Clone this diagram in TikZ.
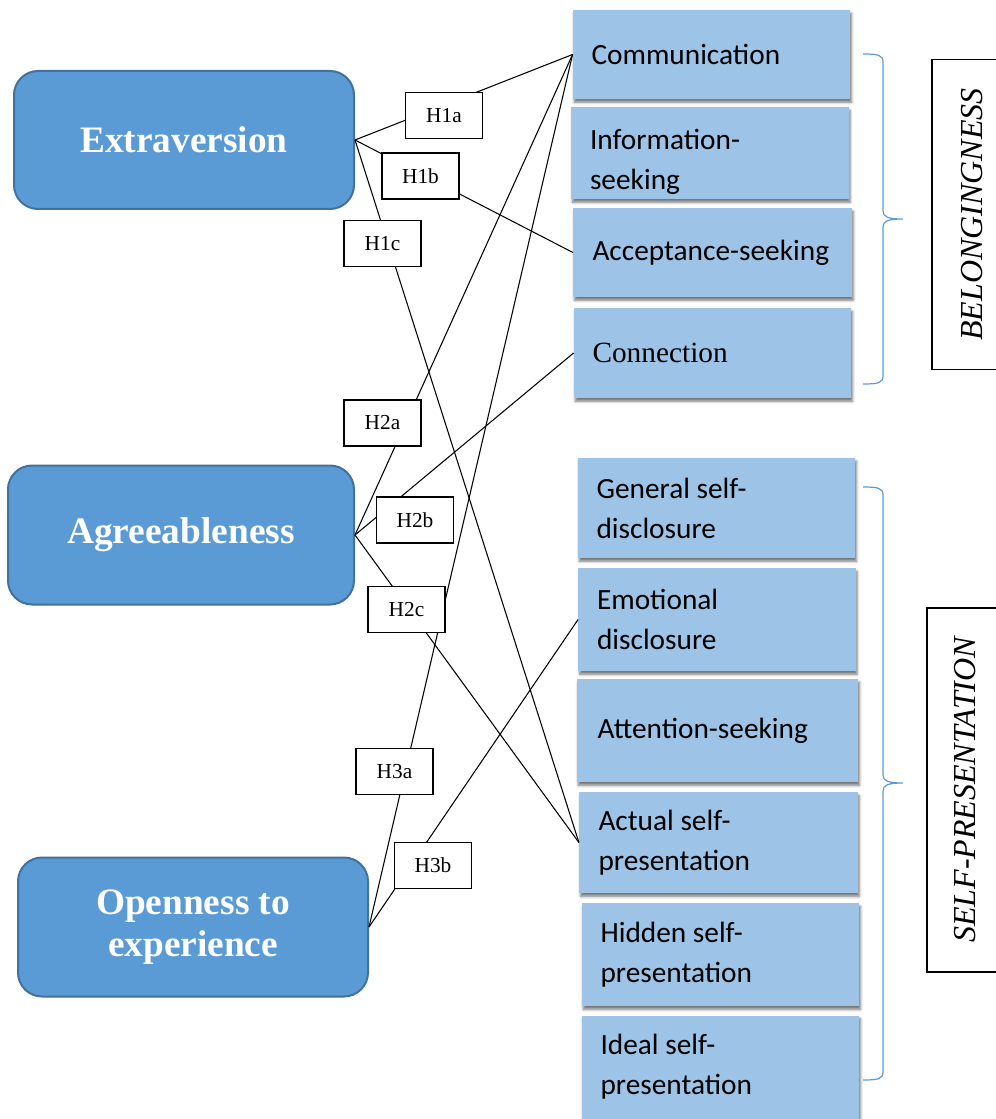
\documentclass[tikz,border=0pt]{standalone}
\usepackage{fontspec}
\setmainfont{Liberation Serif}
\newfontfamily\calibri{Carlito}
\usetikzlibrary{shadows.blur}
\definecolor{ctrait}{HTML}{5B9BD5}
\definecolor{cedge}{HTML}{41719C}
\definecolor{cfacet}{HTML}{9DC3E6}
\tikzset{
  trait/.style={draw=cedge, fill=ctrait, line width=1.5pt, rounded corners=18pt, text=white, align=center,
    font=\fontsize{28}{32}\selectfont\bfseries},
  facet/.style={fill=cfacet, text width=180pt, inner xsep=14pt, align=flush left, minimum width=208pt,
    font=\calibri\fontsize{22}{30}\selectfont,
    blur shadow={shadow xshift=1pt, shadow yshift=-2.5pt, shadow blur radius=2pt, shadow opacity=55}},
  hyp/.style={draw, fill=white, line width=0.9pt, minimum width=57.75pt, minimum height=34.5pt,
    font=\fontsize{16}{18}\selectfont},
  link/.style={line width=0.8pt},
  group/.style={draw, line width=0.8pt, rotate=90, font=\fontsize{24}{28}\selectfont\itshape},
  wbrace/.style={draw=ctrait, line width=0.9pt},
}
\begin{document}
\begin{tikzpicture}[x=0.75pt, y=-0.75pt]
  \useasboundingbox (0,0) rectangle (995,1119);
  % personality traits
  \node[trait, minimum width=255pt, minimum height=103.5pt] (ext) at (184,140) {Extraversion};
  \node[trait, minimum width=259.5pt, minimum height=104.25pt] (agr) at (181,535) {Agreeableness};
  \node[trait, minimum width=262.5pt, minimum height=104.25pt] (opn) at (193,927) {Openness to\\experience};
  % belongingness motives
  \node[facet, minimum height=66.75pt] (com) at (711.5,54.5) {Communication};
  \node[facet, minimum height=69pt, inner ysep=0pt] (inf) at (710,153) {\rule{0pt}{28pt}Information-\\seeking};
  \node[facet, minimum height=66.75pt, minimum width=209pt] (acc) at (712.5,252.5) {\mbox{Acceptance-seeking}};
  \node[facet, minimum height=67.5pt, font=\fontsize{22}{30}\selectfont] (con) at (712.5,353) {Connection};
  % self-presentation motives
  \node[facet, minimum height=75pt] (gen) at (716.5,508) {General self-\\disclosure};
  \node[facet, minimum height=77.25pt] (emo) at (717,619.5) {Emotional\\disclosure};
  \node[facet, minimum height=77.25pt, minimum width=211pt] (att) at (717.5,730.5) {Attention-seeking};
  \node[facet, minimum height=75.75pt, minimum width=209pt] (act) at (718.5,842.5) {Actual self-\\presentation};
  \node[facet, minimum height=77.25pt] (hid) at (720.5,954.5) {Hidden self-\\presentation};
  \node[facet, minimum height=77.25pt] (ide) at (720.5,1067) {Ideal self-\\presentation};
  % hypotheses
  \draw[link] (ext.east) -- (com.west);
  \draw[link] (ext.east) -- (acc.west);
  \draw[link] (ext.east) -- (act.west);
  \draw[link] (agr.east) -- (com.west);
  \draw[link] (agr.east) -- (con.west);
  \draw[link] (agr.east) -- (act.west);
  \draw[link] (opn.east) -- (com.west);
  \draw[link] (opn.east) -- (emo.west);
  \node[hyp] (h1a) at (444,115.5) {H1a};
  \node[hyp] (h1b) at (420.5,176) {H1b};
  \node[hyp] (h1c) at (382.5,243.5) {H1c};
  \node[hyp] (h2a) at (382.5,423) {H2a};
  \node[hyp] (h2b) at (415,520) {H2b};
  \node[hyp] (h2c) at (406.5,609.5) {H2c};
  \node[hyp] (h3a) at (394.5,771.5) {H3a};
  \node[hyp] (h3b) at (433,865.5) {H3b};
  % braces and groups
  \draw[wbrace] (863,54) .. controls (878,54) and (883,55) .. (883,62) -- (883,211)
    .. controls (883,217) and (888,219) .. (903,219) .. controls (888,219) and (883,221) .. (883,227)
    -- (883,376) .. controls (883,383) and (878,384) .. (863,384);
  \draw[wbrace] (863,487) .. controls (878,487) and (883,488) .. (883,495) -- (883,775)
    .. controls (883,781) and (888,783) .. (903,783) .. controls (888,783) and (883,785) .. (883,791)
    -- (883,1072) .. controls (883,1079) and (878,1080) .. (863,1080);
  \node[group, minimum width=233pt, minimum height=60pt] (bel) at (972,214.5) {BELONGINGNESS};
  \node[group, minimum width=273pt, minimum height=57pt] (sel) at (965,790) {SELF-PRESENTATION};
\end{tikzpicture}
\end{document}
